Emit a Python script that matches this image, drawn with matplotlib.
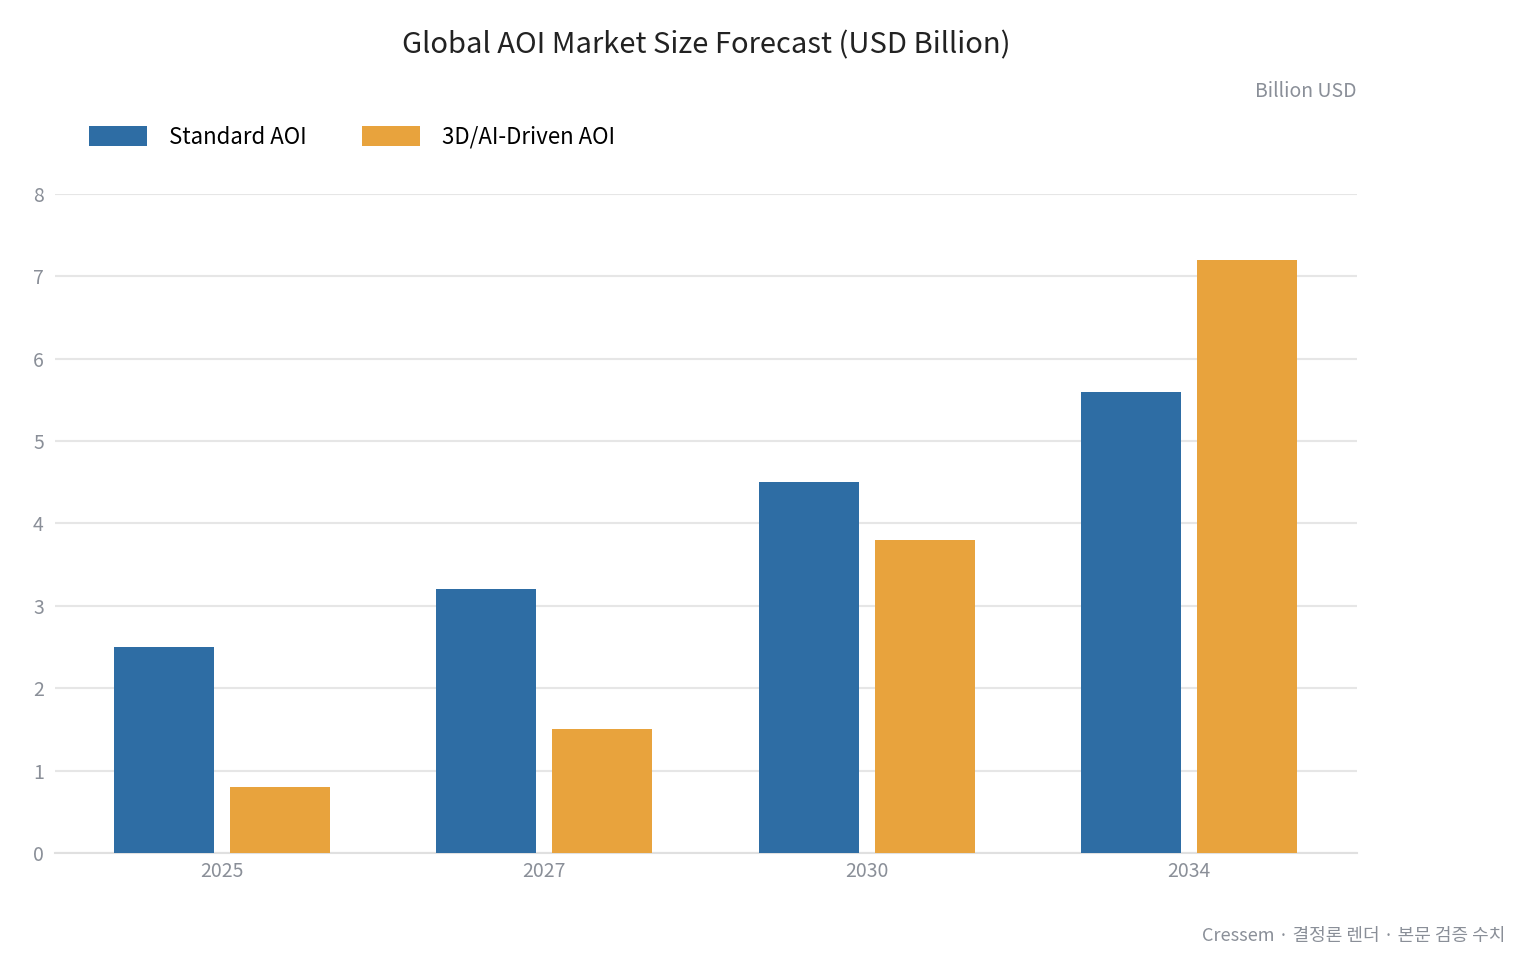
import numpy as np
import matplotlib
matplotlib.use("Agg")
from matplotlib import pyplot as plt

plt.rcParams["font.family"] = ["Noto Sans CJK KR", "DejaVu Sans"]

years = ["2025", "2027", "2030", "2034"]
standard = [2.5, 3.2, 4.5, 5.6]
ai_driven = [0.8, 1.5, 3.8, 7.2]

blue = "#2e6da4"
orange = "#e8a33d"
grey = "#8a8f98"

fig = plt.figure(figsize=(15.35, 9.75), dpi=100)
ax = fig.add_axes([0.0358, 0.1251, 0.848, 0.676])

x = np.arange(len(years))
w = 0.31
ax.bar(x - 0.18, standard, w, color=blue, label="Standard AOI", zorder=3)
ax.bar(x + 0.18, ai_driven, w, color=orange, label="3D/AI-Driven AOI", zorder=3)

ax.set_xlim(-0.518, 3.52)
ax.set_ylim(0, 8)
ax.set_yticks(range(0, 9))
ax.set_xticks(x)
ax.set_xticklabels(years)
ax.grid(axis="y", color="#e6e6e6", lw=1.5, zorder=0)
for s in ["top", "right", "left"]:
    ax.spines[s].set_visible(False)
ax.spines["bottom"].set_color("#e0e0e0")
ax.spines["bottom"].set_linewidth(1.5)
ax.tick_params(axis="both", length=0, labelsize=14, colors=grey)
ax.tick_params(axis="y", pad=8)
ax.tick_params(axis="x", pad=6)

fig.text(0.46, 0.953, "Global AOI Market Size Forecast (USD Billion)",
         ha="center", va="center", fontsize=21, color="#222222", fontweight="medium")
fig.text(0.884, 0.906, "Billion USD", ha="right", va="center", fontsize=14, color=grey)
fig.legend(loc="center left", bbox_to_anchor=(0.045, 0.859), ncol=2, frameon=False,
           fontsize=16, handlelength=2.6, handleheight=1.0, columnspacing=2.5,
           handletextpad=1.0)
fig.text(0.981, 0.04, "Cressem · 결정론 렌더 · 본문 검증 수치", ha="right", va="center",
         fontsize=13, color=grey)

fig.savefig("out.png", dpi=100)
